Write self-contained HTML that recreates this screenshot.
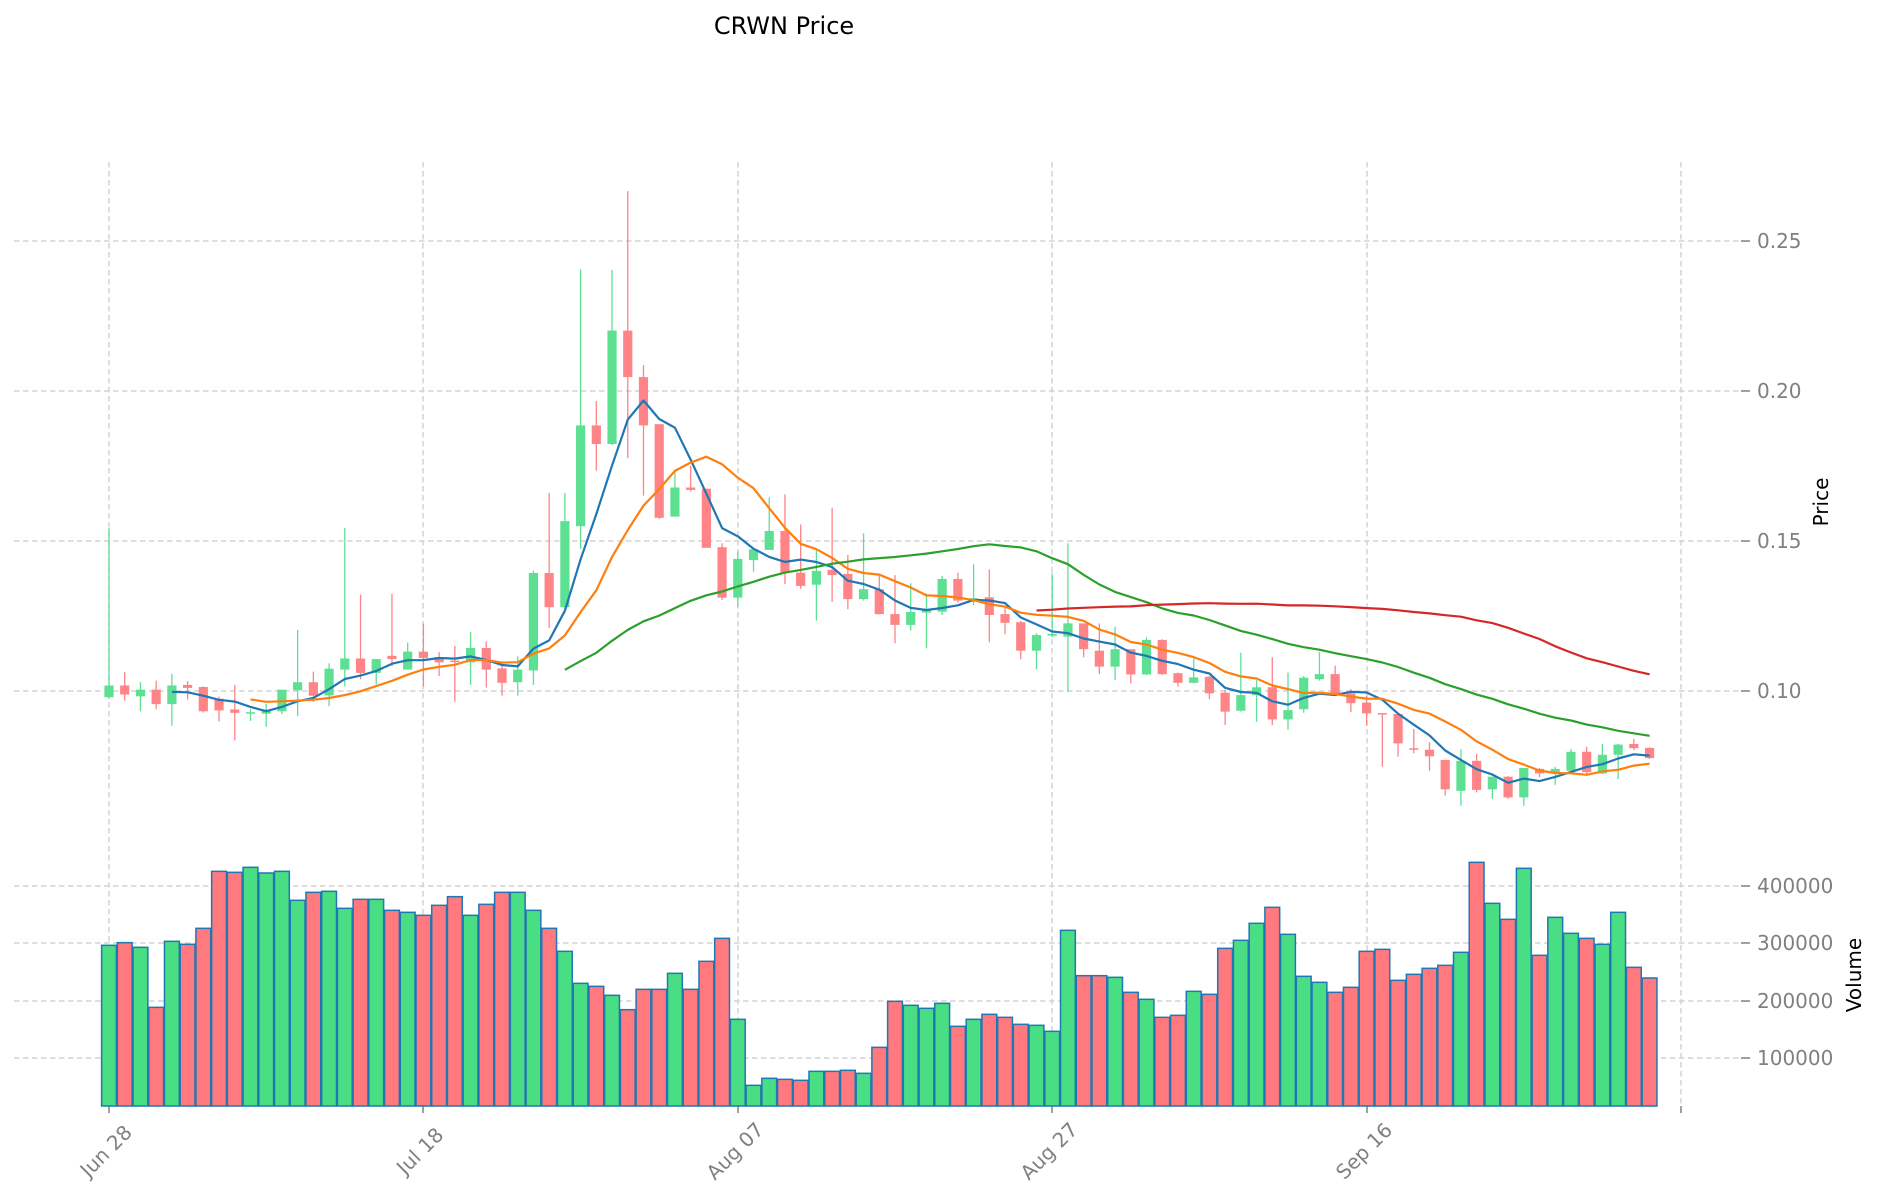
<!DOCTYPE html>
<html><head><meta charset="utf-8"><style>
html,body{margin:0;padding:0;background:#fff;}
svg{display:block;font-family:"DejaVu Sans","Liberation Sans",sans-serif;}
</style></head><body>
<svg id="c" width="1880" height="1202" viewBox="0 0 1880 1202" xmlns="http://www.w3.org/2000/svg">
<g id="grid" stroke="#d3d3d3" stroke-width="1.5" stroke-dasharray="5.5,3.5" fill="none">
<line x1="14" y1="241" x2="1740" y2="241"/><line x1="14" y1="391" x2="1740" y2="391"/>
<line x1="14" y1="541" x2="1740" y2="541"/><line x1="14" y1="691" x2="1740" y2="691"/>
<line x1="14" y1="886" x2="1740" y2="886"/><line x1="14" y1="943" x2="1740" y2="943"/>
<line x1="14" y1="1001" x2="1740" y2="1001"/><line x1="14" y1="1058" x2="1740" y2="1058"/>
<line x1="109" y1="162" x2="109" y2="1106"/><line x1="423" y1="162" x2="423" y2="1106"/>
<line x1="738" y1="162" x2="738" y2="1106"/><line x1="1052" y1="162" x2="1052" y2="1106"/>
<line x1="1367" y1="162" x2="1367" y2="1106"/><line x1="1681" y1="162" x2="1681" y2="1106"/>
</g>
<g stroke="#808080" stroke-width="1.5">
<line x1="1741" y1="241" x2="1750" y2="241"/><line x1="1741" y1="391" x2="1750" y2="391"/>
<line x1="1741" y1="541" x2="1750" y2="541"/><line x1="1741" y1="691" x2="1750" y2="691"/>
<line x1="1741" y1="886" x2="1750" y2="886"/><line x1="1741" y1="943" x2="1750" y2="943"/>
<line x1="1741" y1="1001" x2="1750" y2="1001"/><line x1="1741" y1="1058" x2="1750" y2="1058"/>
<line x1="109" y1="1106" x2="109" y2="1113"/><line x1="423" y1="1106" x2="423" y2="1113"/>
<line x1="738" y1="1106" x2="738" y2="1113"/><line x1="1052" y1="1106" x2="1052" y2="1113"/>
<line x1="1367" y1="1106" x2="1367" y2="1113"/><line x1="1681" y1="1106" x2="1681" y2="1113"/>
</g>
<g id="plot"></g>
<g fill="#808080" font-size="20" dominant-baseline="central">
<text x="1757" y="241">0.25</text><text x="1757" y="391">0.20</text>
<text x="1757" y="541">0.15</text><text x="1757" y="691">0.10</text>
<text x="1757" y="886">400000</text><text x="1757" y="943">300000</text>
<text x="1757" y="1001">200000</text><text x="1757" y="1058">100000</text>
</g>
<g fill="#808080" font-size="20" text-anchor="middle" dominant-baseline="central">
<text transform="translate(106,1151) rotate(-45)">Jun 28</text>
<text transform="translate(420,1151) rotate(-45)">Jul 18</text>
<text transform="translate(735,1151) rotate(-45)">Aug 07</text>
<text transform="translate(1049,1151) rotate(-45)">Aug 27</text>
<text transform="translate(1364,1151) rotate(-45)">Sep 16</text>
</g>
<text x="1821" y="502" font-size="20" fill="#000" text-anchor="middle" dominant-baseline="central" transform="rotate(-90 1821 502)">Price</text>
<text x="1854" y="975" font-size="20" fill="#000" text-anchor="middle" dominant-baseline="central" transform="rotate(-90 1854 975)">Volume</text>
<text x="784" y="26" font-size="24" fill="#000" text-anchor="middle" dominant-baseline="central">CRWN Price</text>
</svg>
<script>
var D=[[.0976,.154,.0971,.1015],[.1015,.106,.0964,.0985],[.0979,.1026,.0929,.1001],[.1001,.1031,.0936,.0953],[.0953,.1054,.0881,.1015],
[.1017,.103,.0968,.1007],[.101,.1012,.0925,.0929],[.0971,.0978,.0895,.0932],[.0935,.1017,.0832,.0924],[.0924,.0936,.0897,.0926],
[.0921,.0954,.0877,.0935],[.0929,.1001,.092,.1001],[.0999,.12,.0913,.1026],[.1026,.1061,.096,.0981],[.0982,.1089,.0946,.1071],
[.1068,.154,.1012,.1105],[.1105,.1318,.1036,.1057],[.1057,.1103,.1019,.1103],[.1114,.132,.1079,.1103],[.1068,.1158,.1068,.1128],
[.1128,.1221,.1012,.1107],[.111,.1126,.1047,.1092],[.1098,.1147,.0961,.1093],[.1092,.1193,.1017,.114],[.114,.1162,.1008,.1068],
[.1072,.1089,.0981,.1024],[.1026,.1112,.0981,.1068],[.1065,.1398,.1017,.139],[.139,.1657,.1207,.1276],[.1276,.1657,.1255,.1563],
[.1546,.2402,.147,.1882],[.1882,.1963,.1731,.182],[.182,.24,.1817,.2198],[.2198,.2663,.1773,.2043],[.2043,.2083,.1648,.1882],
[.1886,.1886,.157,.1574],[.1578,.1727,.1578,.1675],[.1675,.1747,.1662,.1667],[.1671,.1671,.1474,.1474],[.1476,.1489,.13,.1308],
[.1308,.1461,.1278,.1437],[.1433,.1469,.1394,.1469],[.1467,.1642,.1467,.153],[.153,.1652,.1353,.1391],[.1391,.1552,.1337,.1347],
[.1351,.1467,.1231,.1397],[.14,.1608,.1294,.1383],[.1387,.145,.1269,.1303],[.1303,.1522,.1298,.1336],[.1336,.1383,.1252,.1253],
[.1253,.1383,.1156,.1217],[.1217,.1356,.1198,.126],[.1258,.1322,.1139,.1267],[.1261,.138,.125,.137],[.137,.1391,.1291,.1298],
[.1303,.1419,.1283,.1306],[.1309,.1402,.1159,.125],[.1253,.1278,.1186,.1224],[.1226,.1231,.1102,.1131],[.1131,.1189,.1069,.1183],
[.1181,.1389,.1176,.1187],[.1178,.1489,.0994,.1222],[.1222,.1222,.1109,.1136],[.1131,.1222,.1053,.1078],[.1078,.1211,.1033,.1136],
[.1136,.1136,.1022,.1052],[.1052,.1176,.105,.1167],[.1167,.1169,.105,.1053],[.1056,.1058,.1011,.1024],[.1024,.1106,.1022,.1042],
[.1044,.1047,.0969,.0989],[.0991,.1,.0883,.0928],[.0931,.1124,.0928,.0983],[.0983,.1033,.0894,.1009],[.1009,.1109,.0883,.0902],
[.0902,.1058,.0867,.0933],[.0936,.1047,.0924,.1041],[.1036,.1126,.1031,.1053],[.1053,.1081,.0981,.0987],[.0989,.1003,.0926,.0956],
[.0958,.0981,.0881,.0922],[.0923,.0923,.0744,.092],[.092,.092,.0778,.0822],[.0806,.087,.0789,.0801],[.0801,.0826,.0731,.0779],
[.0767,.0767,.0648,.0669],[.0664,.0803,.0614,.0764],[.0764,.0787,.0659,.0667],[.0669,.0711,.0637,.0711],[.0711,.0713,.0637,.0642],
[.0642,.074,.0614,.074],[.0737,.074,.0709,.0722],[.0726,.0744,.0684,.0737],[.0731,.0803,.0729,.0794],[.0794,.0811,.072,.0726],
[.0722,.082,.072,.0784],[.0784,.082,.0703,.0818],[.082,.0837,.08,.0806],[.0807,.0809,.077,.0773]];
var V=[286,278,292,472,274,283,235,64,67,52,69,64,151,127,124,175,148,148,181,187,196,166,140,196,163,127,127,181,235,304,400,409,436,
479,418,418,370,418,334,265,508,706,685,688,691,664,664,661,670,592,454,466,475,460,529,508,493,502,523,526,544,241,377,377,382,
427,448,502,496,424,433,295,271,220,172,253,379,397,427,412,304,298,391,373,355,346,307,37,160,208,55,316,202,250,265,283,187,352,384];
var g=document.getElementById('plot'),s='';
function X(i){return 109+15.72*i;}function Y(p){return 690-(p-0.10)*3000;}
for(var i=0;i<D.length;i++){var d=D[i],up=d[3]>=d[0],x=X(i);
var vy=850+V[i]/3;s+='<rect x="'+(x-7.4)+'" y="'+vy+'" width="14.8" height="'+(1106-vy)+'" fill="'+(up?'#4ade84':'#ff797e')+'" stroke="#1f77b4" stroke-width="1.5"/>';
var col=up?'#5ee093':'#ff8487';var t=Y(Math.max(d[0],d[3])),b=Y(Math.min(d[0],d[3]));if(b-t<1.5){b=t+1.5;}
s+='<line x1="'+x+'" y1="'+Y(d[1])+'" x2="'+x+'" y2="'+Y(d[2])+'" stroke="'+col+'" stroke-width="1.3"/>';
s+='<rect x="'+(x-4.6)+'" y="'+t+'" width="9.2" height="'+(b-t)+'" fill="'+col+'"/>';}
function ma(n,c){var pts=[];for(var i=n-1;i<D.length;i++){var sm=0;for(var k=i-n+1;k<=i;k++)sm+=D[k][3];pts.push(X(i).toFixed(1)+','+Y(sm/n).toFixed(1));}
return '<polyline points="'+pts.join(' ')+'" fill="none" stroke="'+c+'" stroke-width="2.2" stroke-linejoin="round"/>';}
s+=ma(5,'#1f77b4')+ma(10,'#ff7f0e')+ma(30,'#2ca02c')+ma(60,'#d62728');
g.innerHTML=s;
</script>
</body></html>
